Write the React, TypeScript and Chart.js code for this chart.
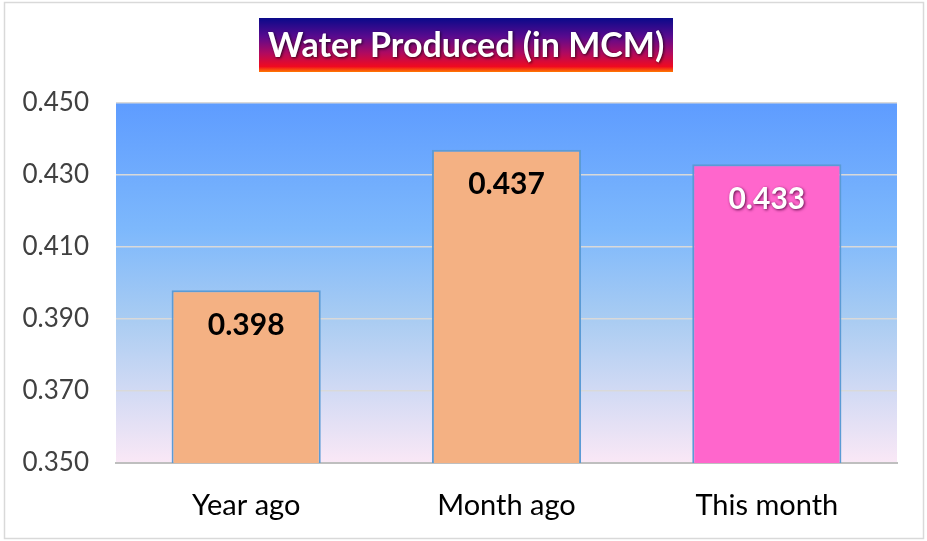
import React, { useEffect, useRef } from "react";
import { Chart, registerables } from "chart.js";

Chart.register(...registerables);

const categories = ["Year ago", "Month ago", "This month"];
const values = [0.398, 0.437, 0.433];
const barColors = ["#F4B183", "#F4B183", "#FF66CC"];
const labelColors = ["#000000", "#000000", "#FFFFFF"];
const yTicks = [0.35, 0.37, 0.39, 0.41, 0.43, 0.45];
const titleText = "Water Produced (in MCM)";

const FONT = "Lato, 'Open Sans', sans-serif";

const bgPlugin = {
  id: "bgPlugin",
  beforeDraw(chart: any) {
    const { ctx, chartArea, width, height } = chart;
    ctx.save();
    ctx.fillStyle = "#ffffff";
    ctx.fillRect(0, 0, width, height);
    ctx.strokeStyle = "#D9D9D9";
    ctx.lineWidth = 1.5;
    ctx.strokeRect(4.5, 2.5, width - 8, height - 5);
    const g = ctx.createLinearGradient(0, chartArea.top, 0, chartArea.bottom);
    g.addColorStop(0, "#5E9CFF");
    g.addColorStop(0.35, "#7DB8FC");
    g.addColorStop(0.6, "#A9CCF2");
    g.addColorStop(1, "#FAE8F6");
    ctx.fillStyle = g;
    ctx.fillRect(chartArea.left, chartArea.top, chartArea.right - chartArea.left, chartArea.bottom - chartArea.top);
    // title box
    const bx = 259, by = 18, bw = 414, bh = 54;
    const tg = ctx.createLinearGradient(0, by, 0, by + bh);
    tg.addColorStop(0, "#0A0A8A");
    tg.addColorStop(0.35, "#5A0A8E");
    tg.addColorStop(0.65, "#B00A60");
    tg.addColorStop(0.9, "#F00A20");
    tg.addColorStop(1, "#FF7A00");
    ctx.fillStyle = tg;
    ctx.fillRect(bx, by, bw, bh);
    ctx.font = `bold 34px ${FONT}`;
    ctx.textAlign = "center";
    ctx.textBaseline = "middle";
    ctx.shadowColor = "rgba(0,0,0,0.7)";
    ctx.shadowBlur = 3;
    ctx.shadowOffsetX = 1;
    ctx.shadowOffsetY = 1;
    ctx.fillStyle = "#ffffff";
    ctx.fillText(titleText, bx + bw / 2, by + bh / 2 + 1);
    ctx.restore();
  },
};

const labelPlugin = {
  id: "labelPlugin",
  afterDatasetsDraw(chart: any) {
    const { ctx } = chart;
    const meta = chart.getDatasetMeta(0);
    ctx.save();
    ctx.font = `bold 30px ${FONT}`;
    ctx.textAlign = "center";
    ctx.textBaseline = "middle";
    meta.data.forEach((bar: any, i: number) => {
      const v = values[i];
      if (labelColors[i] === "#FFFFFF") {
        ctx.shadowColor = "rgba(80,0,60,0.9)";
        ctx.shadowBlur = 3;
        ctx.shadowOffsetX = 1;
        ctx.shadowOffsetY = 1;
      } else {
        ctx.shadowColor = "transparent";
        ctx.shadowBlur = 0;
        ctx.shadowOffsetX = 0;
        ctx.shadowOffsetY = 0;
      }
      ctx.fillStyle = labelColors[i];
      ctx.fillText(v.toFixed(3), bar.x, bar.y + 35);
    });
    ctx.restore();
  },
};

export default function App() {
  const ref = useRef<HTMLCanvasElement | null>(null);
  useEffect(() => {
    document.body.style.margin = "0";
    if (!ref.current) return;
    const chart = new Chart(ref.current, {
      type: "bar",
      data: {
        labels: categories,
        datasets: [
          {
            data: values,
            backgroundColor: barColors,
            borderColor: "#5B9BD5",
            borderWidth: 2,
            barPercentage: 0.573,
            categoryPercentage: 1,
          },
        ],
      },
      options: {
        animation: false,
        responsive: false,
        maintainAspectRatio: false,
        layout: { padding: { top: 103, right: 30, left: 0, bottom: 0 } },
        plugins: {
          legend: { display: false },
          title: { display: false },
          tooltip: { enabled: false },
        },
        scales: {
          x: {
            grid: { display: false, drawTicks: false },
            border: { display: true, color: "#BFBFBF", width: 2 },
            ticks: {
              color: "#000000",
              font: { family: FONT, size: 29 },
              padding: 25,
            },
            afterFit(scale: any) {
              scale.height = 78;
            },
          },
          y: {
            min: 0.35,
            max: 0.45,
            afterBuildTicks(scale: any) {
              scale.ticks = yTicks.map((v) => ({ value: v }));
            },
            grid: { color: "#D9D9D9", lineWidth: 1.5, drawTicks: false },
            border: { display: false },
            ticks: {
              color: "#404040",
              font: { family: FONT, size: 26 },
              padding: 27,
              callback: (v: any) => Number(v).toFixed(3),
            },
            afterFit(scale: any) {
              scale.width = 116;
            },
          },
        },
      },
      plugins: [bgPlugin, labelPlugin],
    });
    return () => chart.destroy();
  }, []);
  return (
    <div style={{ position: "absolute", left: 0, top: 0, width: 927, height: 541 }}>
      <canvas ref={ref} width={927} height={541} style={{ width: 927, height: 541 }} />
    </div>
  );
}
